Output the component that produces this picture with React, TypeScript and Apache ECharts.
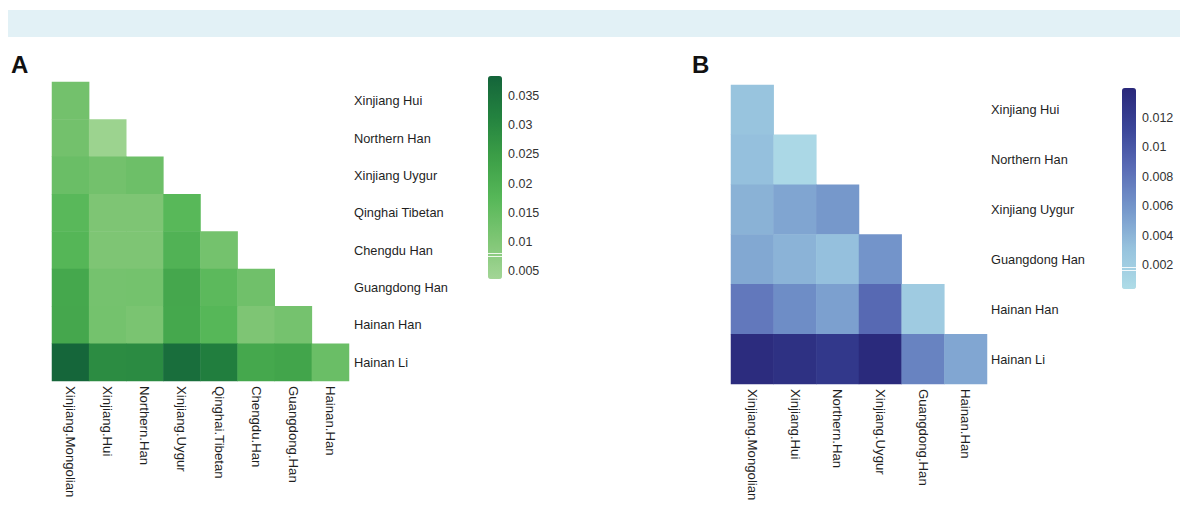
import React, { useEffect, useRef } from "react";
import * as echarts from "echarts";

const colsA = ["Xinjiang.Mongolian", "Xinjiang.Hui", "Northern.Han", "Xinjiang.Uygur", "Qinghai.Tibetan", "Chengdu.Han", "Guangdong.Han", "Hainan.Han"];
const rowsA = ["Xinjiang Hui", "Northern Han", "Xinjiang Uygur", "Qinghai Tibetan", "Chengdu Han", "Guangdong Han", "Hainan Han", "Hainan Li"];
const fstA = [
  [0.0125],
  [0.0125, 0.005],
  [0.0140, 0.0125, 0.0135],
  [0.0170, 0.0105, 0.0105, 0.0172],
  [0.0178, 0.0105, 0.0105, 0.0190, 0.0122],
  [0.0220, 0.0120, 0.0122, 0.0222, 0.0165, 0.0130],
  [0.0222, 0.0122, 0.0112, 0.0220, 0.0175, 0.0105, 0.0120],
  [0.0380, 0.0290, 0.0292, 0.0360, 0.0325, 0.0220, 0.0228, 0.0140],
];
const ticksA = [0.005, 0.01, 0.015, 0.02, 0.025, 0.03, 0.035];

const colsB = ["Xinjiang.Mongolian", "Xinjiang.Hui", "Northern.Han", "Xinjiang.Uygur", "Guangdong.Han", "Hainan.Han"];
const rowsB = ["Xinjiang Hui", "Northern Han", "Xinjiang Uygur", "Guangdong Han", "Hainan Han", "Hainan Li"];
const fstB = [
  [0.0030],
  [0.0033, 0.0008],
  [0.0042, 0.0050, 0.0058],
  [0.0048, 0.0041, 0.0033, 0.0060],
  [0.0078, 0.0065, 0.0053, 0.0088, 0.0022],
  [0.0136, 0.0132, 0.0125, 0.0138, 0.0071, 0.0049],
];
const ticksB = [0.002, 0.004, 0.006, 0.008, 0.01, 0.012];

const rangeA = [0.0037, 0.0384];
const rangeB = [0.0004, 0.014];
const greens = ["#a3d696", "#7dc573", "#56b758", "#3c9f47", "#23823f", "#14643a"];
const blues = ["#aedce7", "#97c3de", "#7597cb", "#5a6cb6", "#3a4598", "#29287a"];

function toCells(m: number[][]) {
  const out: number[][] = [];
  m.forEach((row, i) => row.forEach((v, j) => out.push([j, i, v])));
  return out;
}

const FONT = "'Liberation Sans', Arial, sans-serif";

export default function App() {
  const ref = useRef<HTMLDivElement>(null);
  useEffect(() => {
    const chart = echarts.init(ref.current!, undefined, { renderer: "svg" });
    const yLabel = { fontSize: 12.8, color: "#1f1f1f", fontFamily: FONT };
    const xLabel = { fontSize: 13.2, color: "#1f1f1f", fontFamily: FONT };
    const legendAxis = (gi: number, range: number[], ticks: number[]) => ({
      gridIndex: gi,
      type: "value",
      position: "right",
      min: range[0],
      max: range[1],
      axisLine: { show: false },
      axisTick: { show: false },
      splitLine: { show: false },
      axisLabel: { customValues: ticks, margin: 6, fontSize: 12.5, color: "#333", fontFamily: FONT, showMinLabel: true, showMaxLabel: true },
    });
    chart.setOption({
      animation: false,
      backgroundColor: "#fff",
      grid: [
        { left: 52, top: 82, width: 297, height: 299 },
        { left: 731, top: 85, width: 256, height: 299 },
        { left: 488, top: 76, width: 14, height: 203 },
        { left: 1122, top: 88, width: 14, height: 201 },
      ],
      xAxis: [
        { gridIndex: 0, type: "category", data: colsA, axisLine: { show: false }, axisTick: { show: false }, splitLine: { show: false }, axisLabel: { ...xLabel, rotate: -90, interval: 0, margin: 5 } },
        { gridIndex: 1, type: "category", data: colsB, axisLine: { show: false }, axisTick: { show: false }, splitLine: { show: false }, axisLabel: { ...xLabel, rotate: -90, interval: 0, margin: 5 } },
        { gridIndex: 2, type: "value", show: false },
        { gridIndex: 3, type: "value", show: false },
      ],
      yAxis: [
        { gridIndex: 0, type: "category", data: rowsA, inverse: true, position: "right", axisLine: { show: false }, axisTick: { show: false }, splitLine: { show: false }, axisLabel: { ...yLabel, interval: 0, margin: 5 } },
        { gridIndex: 1, type: "category", data: rowsB, inverse: true, position: "right", axisLine: { show: false }, axisTick: { show: false }, splitLine: { show: false }, axisLabel: { ...yLabel, interval: 0, margin: 4 } },
        legendAxis(2, rangeA, ticksA),
        legendAxis(3, rangeB, ticksB),
      ],
      visualMap: [
        { type: "continuous", seriesIndex: 0, min: rangeA[0], max: rangeA[1], inRange: { color: greens }, left: 488, top: 76, itemWidth: 14, itemHeight: 203, padding: 0, calculable: false, hoverLink: false },
        { type: "continuous", seriesIndex: 1, min: rangeB[0], max: rangeB[1], inRange: { color: blues }, left: 1122, top: 88, itemWidth: 14, itemHeight: 201, padding: 0, calculable: false, hoverLink: false },
      ],
      series: [
        { type: "heatmap", xAxisIndex: 0, yAxisIndex: 0, data: toCells(fstA), itemStyle: { borderWidth: 0 } },
        { type: "heatmap", xAxisIndex: 1, yAxisIndex: 1, data: toCells(fstB), itemStyle: { borderWidth: 0 } },
      ],
      graphic: [
        { type: "rect", shape: { x: 8, y: 10, width: 1172, height: 27 }, style: { fill: "#e2f1f6" }, silent: true },
        { type: "text", x: 11, y: 52, style: { text: "A", font: `bold 24px ${FONT}`, fill: "#111" } },
        { type: "text", x: 692, y: 52, style: { text: "B", font: `bold 24px ${FONT}`, fill: "#111" } },
        { type: "rect", z: 100, shape: { x: 488, y: 253, width: 14, height: 1 }, style: { fill: "rgba(255,255,255,0.85)" } },
        { type: "rect", z: 100, shape: { x: 488, y: 256, width: 14, height: 1 }, style: { fill: "rgba(255,255,255,0.85)" } },
        { type: "rect", z: 100, shape: { x: 1122, y: 267, width: 14, height: 1 }, style: { fill: "rgba(255,255,255,0.85)" } },
        { type: "rect", z: 100, shape: { x: 1122, y: 270, width: 14, height: 1 }, style: { fill: "rgba(255,255,255,0.85)" } },
      ],
    });
    return () => chart.dispose();
  }, []);
  return <div ref={ref} style={{ position: "fixed", left: 0, top: 0, width: 1182, height: 509, background: "#fff" }} />;
}
